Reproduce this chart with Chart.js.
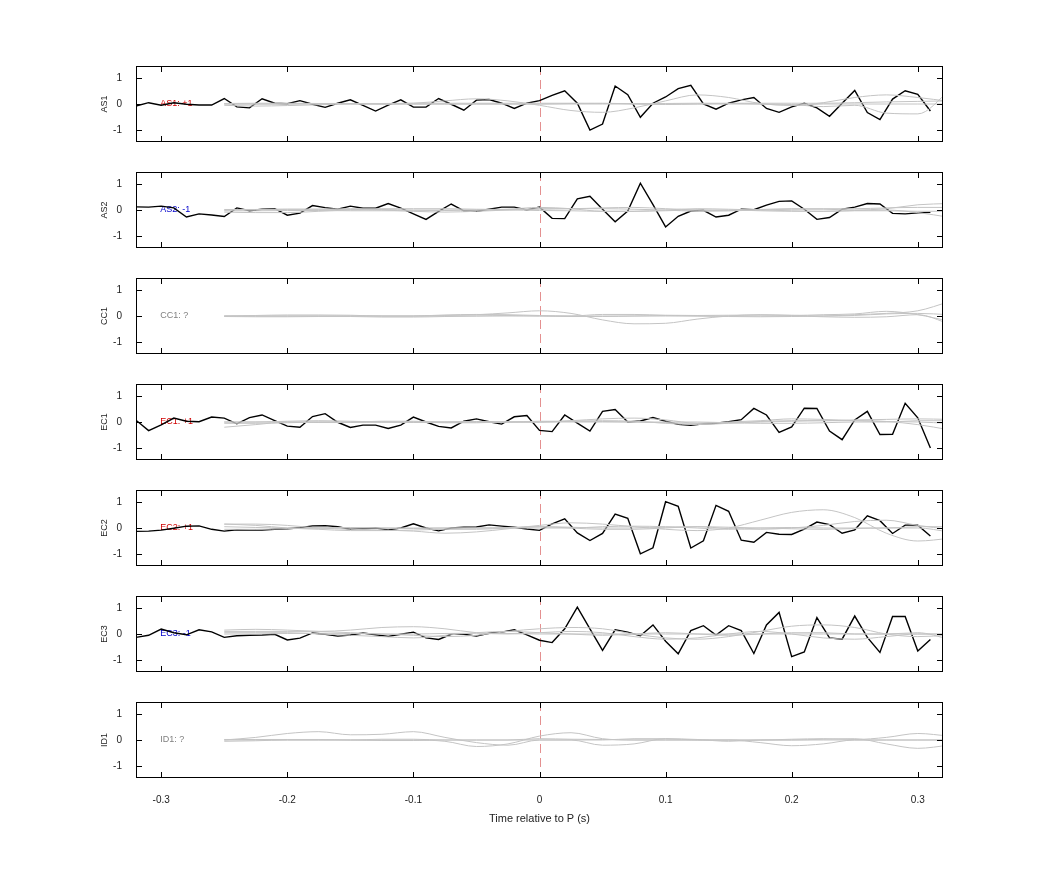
<!DOCTYPE html>
<html><head><meta charset="utf-8">
<script src="https://cdn.jsdelivr.net/npm/chart.js@4/dist/chart.umd.min.js"></script>
<style>body{margin:0;background:#fff;width:1042px;height:875px;position:relative;font-family:"Liberation Sans",Arial,sans-serif}
.p{position:absolute;left:90px;width:853px}</style></head><body>
<script>
const channels = ["AS1","AS2","CC1","EC1","EC2","EC3","ID1"];
const signs = ["+1","-1","?","+1","+1","-1","?"];
const xTicks = [-0.3,-0.2,-0.1,0,0.1,0.2,0.3];
const yTicks = [-1,0,1];
// black trace sample times: -0.32 .. 0.31 step 0.01
const blackTimes = [-0.32,-0.31,-0.30,-0.29,-0.28,-0.27,-0.26,-0.25,-0.24,-0.23,-0.22,-0.21,-0.20,-0.19,-0.18,-0.17,-0.16,-0.15,-0.14,-0.13,-0.12,-0.11,-0.10,-0.09,-0.08,-0.07,-0.06,-0.05,-0.04,-0.03,-0.02,-0.01,0,0.01,0.02,0.03,0.04,0.05,0.06,0.07,0.08,0.09,0.10,0.11,0.12,0.13,0.14,0.15,0.16,0.17,0.18,0.19,0.20,0.21,0.22,0.23,0.24,0.25,0.26,0.27,0.28,0.29,0.30,0.31];
const AS1 = [-0.08,0.05,-0.05,0.05,-0.01,-0.04,-0.04,0.21,-0.11,-0.15,0.2,0.03,0.01,0.13,-0.01,-0.13,0.03,0.16,-0.05,-0.27,-0.04,0.16,-0.12,-0.12,0.21,-0.01,-0.24,0.15,0.17,0.03,-0.17,0.03,0.13,0.33,0.51,0.03,-1.0,-0.77,0.69,0.36,-0.51,0.03,0.27,0.59,0.72,0,-0.2,0.03,0.16,0.25,-0.17,-0.32,-0.11,0.03,-0.15,-0.47,0.03,0.52,-0.33,-0.6,0.19,0.51,0.37,-0.27];
const AS2 = [0.12,0.11,0.15,0.08,-0.27,-0.15,-0.19,-0.25,0.08,-0.03,0.03,0.05,-0.2,-0.12,0.17,0.09,0.03,0.15,0.07,0.07,0.25,0.07,-0.15,-0.36,-0.05,0.23,-0.03,-0.05,0.03,0.11,0.11,0,0.11,-0.32,-0.33,0.43,0.53,0.03,-0.45,-0.04,1.03,0.21,-0.65,-0.24,-0.04,-0.01,-0.27,-0.2,0.03,0.01,0.19,0.33,0.35,0.03,-0.36,-0.29,0.03,0.11,0.25,0.23,-0.13,-0.15,-0.11,-0.09];
const EC1 = [0.07,-0.33,-0.11,0.15,0.03,0.01,0.19,0.15,-0.07,0.17,0.27,0.05,-0.16,-0.2,0.21,0.32,-0.01,-0.21,-0.12,-0.12,-0.25,-0.12,0.19,0,-0.17,-0.23,0.03,0.12,0.01,-0.08,0.2,0.25,-0.32,-0.37,0.27,-0.04,-0.35,0.41,0.48,0,0.04,0.17,0.03,-0.09,-0.13,-0.07,-0.05,0.01,0.09,0.52,0.27,-0.4,-0.19,0.53,0.52,-0.35,-0.68,0.08,0.41,-0.48,-0.47,0.72,0.16,-1.0];
const EC2 = [-0.13,-0.12,-0.08,-0.01,0.07,0.08,-0.05,-0.12,-0.07,-0.08,-0.08,-0.05,-0.03,0.01,0.08,0.09,0.05,-0.05,-0.03,0,-0.07,0,0.16,0,-0.11,0,0.03,0.04,0.12,0.07,0.03,-0.04,-0.09,0.16,0.35,-0.19,-0.48,-0.21,0.53,0.37,-0.99,-0.76,1.01,0.83,-0.77,-0.49,0.87,0.64,-0.47,-0.55,-0.17,-0.24,-0.25,-0.04,0.23,0.13,-0.2,-0.07,0.47,0.28,-0.21,0.11,0.11,-0.31];
const EC3 = [-0.13,-0.05,0.19,0.05,-0.03,0.16,0.08,-0.13,-0.07,-0.05,-0.04,-0.01,-0.23,-0.16,0.04,-0.01,-0.08,-0.04,0.04,-0.03,-0.09,-0.01,0.07,-0.15,-0.21,-0.01,-0.01,-0.08,0.03,0.07,0.16,-0.03,-0.24,-0.33,0.2,1.03,0.2,-0.63,0.16,0.07,-0.07,0.35,-0.28,-0.76,0.13,0.32,-0.04,0.32,0.13,-0.75,0.35,0.83,-0.87,-0.69,0.63,-0.15,-0.2,0.69,-0.13,-0.71,0.67,0.67,-0.65,-0.21];
const blackSeries = [AS1, AS2, null, EC1, EC2, EC3, null];
// gray traces: times -0.25 .. 0.325 step 0.025
const grayTimes = [-0.25,-0.225,-0.2,-0.175,-0.15,-0.125,-0.1,-0.075,-0.05,-0.025,0,0.025,0.05,0.075,0.1,0.125,0.15,0.175,0.2,0.225,0.25,0.275,0.3,0.325];
const AS1_gray = [
[0,0,0,0,0,0,0.03,0.12,0.2,0.12,-0.05,-0.25,-0.32,-0.15,0.12,0.35,0.25,0.02,-0.05,0,0,0,0,0],
[-0.05,-0.08,-0.06,-0.03,0,0,0,0,0,0,0,0.02,0.03,0,-0.02,0,0.02,0,-0.05,0.05,0.25,0.35,0.25,0.1],
[0,0,0,0.02,0.02,0,0,0,0,0,0,0,0,0,0,0,0,0,-0.02,-0.1,-0.05,-0.35,-0.38,0.5],
[0.02,0.03,0.03,0.02,0.02,0.02,0.03,0.03,0.03,0.03,0.03,0.03,0.02,0.02,0.02,0.03,0.03,0.03,0.03,0.03,0.05,0.08,0.1,0.12]];
const AS2_gray = [
[0,0.02,0.03,0.03,0.02,0,-0.05,-0.08,-0.05,0,0.05,0.05,0.08,0.1,0.05,0,-0.03,0,0.03,0.03,0,0.05,0.2,0.25],
[-0.08,-0.1,-0.1,-0.05,0,0.02,0,0,0,0.03,0.1,0.05,-0.05,-0.05,0,0.05,0.03,0,-0.03,-0.05,-0.02,0,-0.1,-0.28],
[0.02,0.02,0.03,0.03,0.05,0.05,0.05,0.05,0.03,0.02,0.03,0.05,0.05,0.03,0,-0.05,-0.03,0.02,0.05,0.05,0.05,0.08,0.1,0.1],
[-0.03,-0.03,-0.02,-0.02,-0.03,-0.03,-0.03,-0.02,0,0,-0.02,-0.03,-0.05,-0.05,-0.03,0,0,-0.03,-0.05,-0.05,-0.03,-0.03,-0.05,-0.05]];
const CC1_gray = [
[0,0,0,0,0,0,0,0.02,0.05,0.12,0.2,0.1,-0.15,-0.3,-0.28,-0.12,0,0.05,0.03,0,0.05,0.1,0.2,0.55],
[0,0.02,0.04,0.04,0.03,0,0,0.04,0.06,0.05,0.02,0,0.06,0.06,0.03,0.02,0.03,0.04,0.02,0.05,0.08,0.18,0.05,-0.2],
[0,0,0,0,0,0,0,0,0,0,0,0,0,0,0,0,0,0,0,-0.03,-0.05,-0.03,0.05,-0.3],
[-0.02,-0.03,-0.03,-0.02,-0.02,-0.04,-0.04,-0.02,0,0.02,0,-0.02,-0.02,0,0.02,0,-0.02,-0.03,-0.02,0,0.02,0.08,0.1,0.05]];
const EC1_gray = [
[-0.2,-0.1,0,0,0,0,0,0,0,0,0,0.05,0.12,0.15,0.08,-0.05,0,0.05,0.12,0.1,0.05,0.02,0,-0.05],
[0,0,0.03,0.05,0.03,0,-0.02,0,0.02,0,0,0.03,0.05,0.03,-0.05,-0.1,-0.05,0,0.03,0.05,0.05,0.02,-0.1,-0.3],
[-0.05,-0.05,-0.03,0,0,0.03,0.03,0,0,0,0.03,0.03,0.02,0,-0.03,-0.05,-0.03,0.02,0.05,0.05,0.08,0.1,0.12,0.1],
[0,0,0,-0.02,-0.02,0,0,-0.03,-0.03,0,0,0,0,0,0,0,-0.03,-0.05,-0.05,-0.03,0,0,0.05,0.05]];
const EC2_gray = [
[0.15,0.15,0.1,0,-0.05,-0.08,-0.12,-0.2,-0.15,-0.03,0.1,0.2,0.15,0.05,-0.05,-0.1,0,0.3,0.6,0.7,0.4,-0.2,-0.5,-0.4],
[0.15,0.1,0,-0.05,-0.1,-0.1,-0.08,-0.05,-0.05,0,0.05,0,-0.05,-0.05,0,0.05,-0.02,-0.05,0,0.1,0.25,0.3,0.1,-0.05],
[0.05,0.02,0,0,0,0,0,0,0,0,0,0,0.05,0.07,0.05,0,-0.05,0,0.02,0,0,0,0.05,0.05],
[-0.05,-0.05,-0.03,0,0.02,0,-0.02,0,0,0.02,0.05,0.03,0,0,0.03,0.05,0.03,0,-0.03,-0.05,-0.02,0,0,-0.15]];
const EC3_gray = [
[0.15,0.18,0.15,0.1,0.05,0,-0.05,-0.1,-0.05,0.1,0.2,0.25,0.2,0,-0.15,-0.2,-0.1,0.1,0.3,0.35,0.25,0,-0.1,-0.05],
[0.1,0.1,0.1,0.1,0.15,0.25,0.28,0.2,0.05,0,0.05,0.1,0.05,-0.1,-0.2,-0.15,0,0.1,0,-0.15,-0.2,-0.1,0,0],
[0.05,0.05,0.05,0,-0.05,-0.1,-0.15,-0.05,0.05,0.1,0.05,0,-0.05,0,0.05,0,-0.05,0,0.05,0.05,0,0,0.05,-0.2],
[0,0,0.02,0.03,0.02,0,0,0.02,0.03,0.02,0,0,0,0,0,0,0,0,0,0,0,0,0,0]];
const ID1_gray = [
[0,0.1,0.25,0.32,0.2,0.22,0.32,0.1,-0.1,-0.2,0,0,-0.2,-0.15,0.05,0.02,-0.05,0,0,0,0,0,0,0],
[0,0,0,0,0,0,0,-0.05,-0.25,-0.15,0.15,0.28,0.05,0,0,0,0,-0.1,-0.22,-0.15,0,0,0,0],
[-0.05,-0.03,0,0,0,0.03,0.03,0,0,0,0,0,0,0.05,0.05,0,0,0,0,0.03,0.05,-0.15,-0.32,-0.2],
[0.02,0.02,0.02,0.02,0,-0.02,-0.02,0,0,0,0.05,0.03,0.02,0,0,0,0,0,0.03,0.05,0.02,0.1,0.25,0.15]];
const graySeries = [AS1_gray, AS2_gray, CC1_gray, EC1_gray, EC2_gray, EC3_gray, ID1_gray];
const signColor = {"+1":"#d00000","-1":"#0000cc","?":"#808080"};

const framePlugin = {
  id:'frame',
  beforeDatasetsDraw(c){
    const {ctx, chartArea:a, scales:{x,y}} = c;
    ctx.save();
    ctx.strokeStyle='#e49090'; ctx.lineWidth=1; ctx.setLineDash([9,5]);
    const x0 = Math.round(x.getPixelForValue(0))+0.5;
    ctx.beginPath(); ctx.moveTo(x0,a.top); ctx.lineTo(x0,a.bottom); ctx.stroke();
    ctx.restore();
    const i = c.options.plugins.frame.idx;
    ctx.save();
    ctx.font='9px "Liberation Sans", Arial, sans-serif';
    ctx.fillStyle=signColor[signs[i]]; ctx.textBaseline='middle';
    ctx.fillText(channels[i]+': '+signs[i], x.getPixelForValue(-0.3)-1, y.getPixelForValue(0));
    ctx.restore();
  },
  afterDraw(c){
    const {ctx, chartArea:a, scales:{x,y}} = c;
    ctx.save();
    ctx.strokeStyle='#000'; ctx.lineWidth=1;
    ctx.strokeRect(a.left+0.5,a.top+0.5,a.right-a.left-1,a.bottom-a.top-1);
    ctx.beginPath();
    xTicks.forEach(v=>{const p=Math.round(x.getPixelForValue(v))+0.5;
      ctx.moveTo(p,a.top); ctx.lineTo(p,a.top+6); ctx.moveTo(p,a.bottom); ctx.lineTo(p,a.bottom-6);});
    yTicks.forEach(v=>{const p=Math.round(y.getPixelForValue(v))+0.5;
      ctx.moveTo(a.left,p); ctx.lineTo(a.left+6,p); ctx.moveTo(a.right,p); ctx.lineTo(a.right-6,p);});
    ctx.stroke(); ctx.restore();
  }
};

const tops = [66,172,278,384,490,596,702];
const charts = [];
channels.forEach((ch,i)=>{
  const last = i===6;
  const div=document.createElement('div'); div.className='p';
  div.style.top=(tops[i]-20)+'px'; div.style.height=(last?96+52:116)+'px';
  const cv=document.createElement('canvas'); div.appendChild(cv); document.body.appendChild(div);
  const ds=[];
  graySeries[i].forEach(g=>ds.push({data:grayTimes.map((t,k)=>({x:t,y:g[k]})),borderColor:'#c4c4c4',borderWidth:1,pointRadius:0,tension:0.4,cubicInterpolationMode:'monotone'}));
  if(blackSeries[i]) ds.push({data:blackTimes.map((t,k)=>({x:t,y:blackSeries[i][k]})),borderColor:'#000',borderWidth:1.4,pointRadius:0,tension:0});
  const ch0 = new Chart(cv,{type:'line',data:{datasets:ds},plugins:[framePlugin],
    options:{responsive:true,maintainAspectRatio:false,animation:false,
      layout:{padding:{left:0,right:0,top:20,bottom:last?0:20}},
      plugins:{legend:{display:false},tooltip:{enabled:false},frame:{idx:i}},
      scales:{
        x:{type:'linear',min:-0.32,max:0.32,display:last,
          afterBuildTicks:s=>{s.ticks=xTicks.map(v=>({value:v}));},
          afterFit:s=>{if(last) s.height=52;},
          grid:{display:false},border:{display:false},
          ticks:{color:'#222',font:{size:10,family:'Liberation Sans'},padding:8,maxRotation:0,callback:v=>v===0?'0':String(Math.round(v*10)/10)},
          title:{display:true,text:'Time relative to P (s)',color:'#222',font:{size:11,family:'Liberation Sans'},padding:{top:6}}},
        y:{min:-1.46,max:1.46,
          afterBuildTicks:s=>{s.ticks=yTicks.map(v=>({value:v}));},
          afterFit:s=>{s.width=46;},
          grid:{display:false},border:{display:false},
          ticks:{color:'#222',font:{size:10,family:'Liberation Sans'},padding:6},
          title:{display:true,text:ch,color:'#222',font:{size:9,family:'Liberation Sans'},padding:{top:9,bottom:0}}}
      }}});
  charts.push(ch0);
});
</script></body></html>
